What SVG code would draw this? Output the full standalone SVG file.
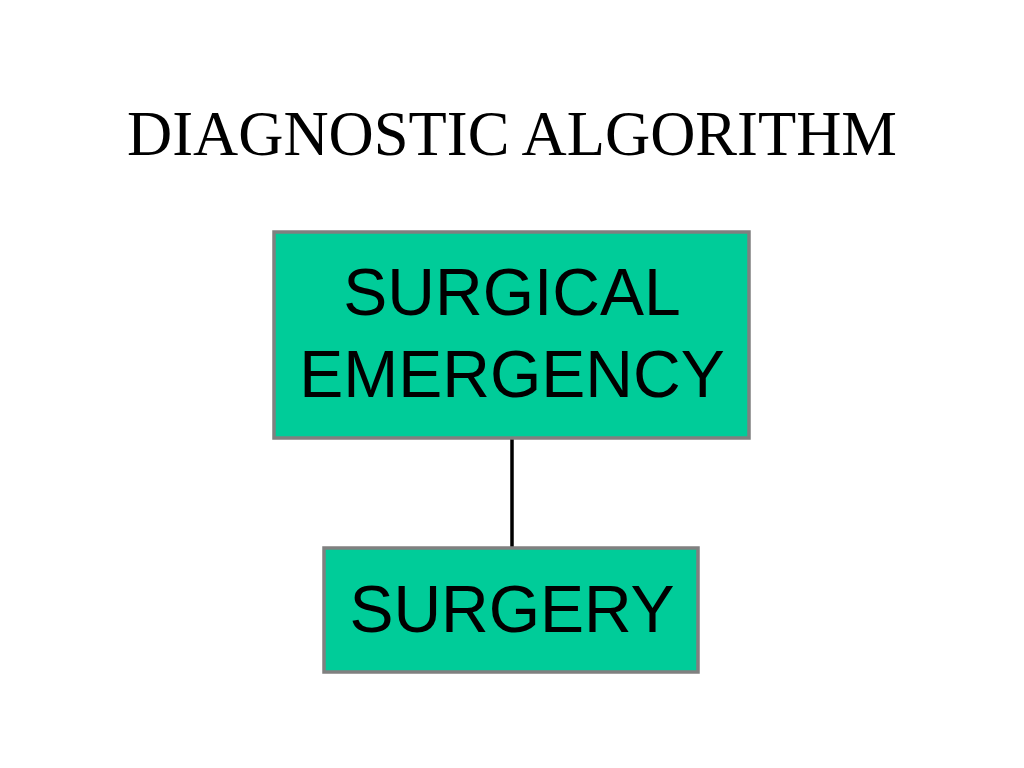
<svg xmlns="http://www.w3.org/2000/svg" width="1024" height="768" viewBox="0 0 1024 768">
<style>
.box{fill:#00CC99;stroke:#808080;stroke-width:3.5}
.lbl{font-family:"Liberation Sans",Arial,sans-serif;font-size:66px;fill:#000;text-anchor:middle}
.title{font-family:"Liberation Serif","Times New Roman",serif;font-size:63px;fill:#000;text-anchor:middle}
</style>
<rect width="1024" height="768" fill="#fff"/>
<text class="title" x="512" y="155" textLength="770" lengthAdjust="spacingAndGlyphs">DIAGNOSTIC ALGORITHM</text>
<g id="connectors">
<line x1="512" y1="438" x2="512" y2="548" stroke="#000" stroke-width="3.5"/>
</g>
<g id="node-emergency">
<rect class="box" x="274" y="232" width="475" height="206"/>
<text class="lbl" x="512" y="315">SURGICAL</text>
<text class="lbl" x="512" y="397">EMERGENCY</text>
</g>
<g id="node-surgery">
<rect class="box" x="324" y="548" width="374" height="124"/>
<text class="lbl" x="512" y="632">SURGERY</text>
</g>
</svg>
